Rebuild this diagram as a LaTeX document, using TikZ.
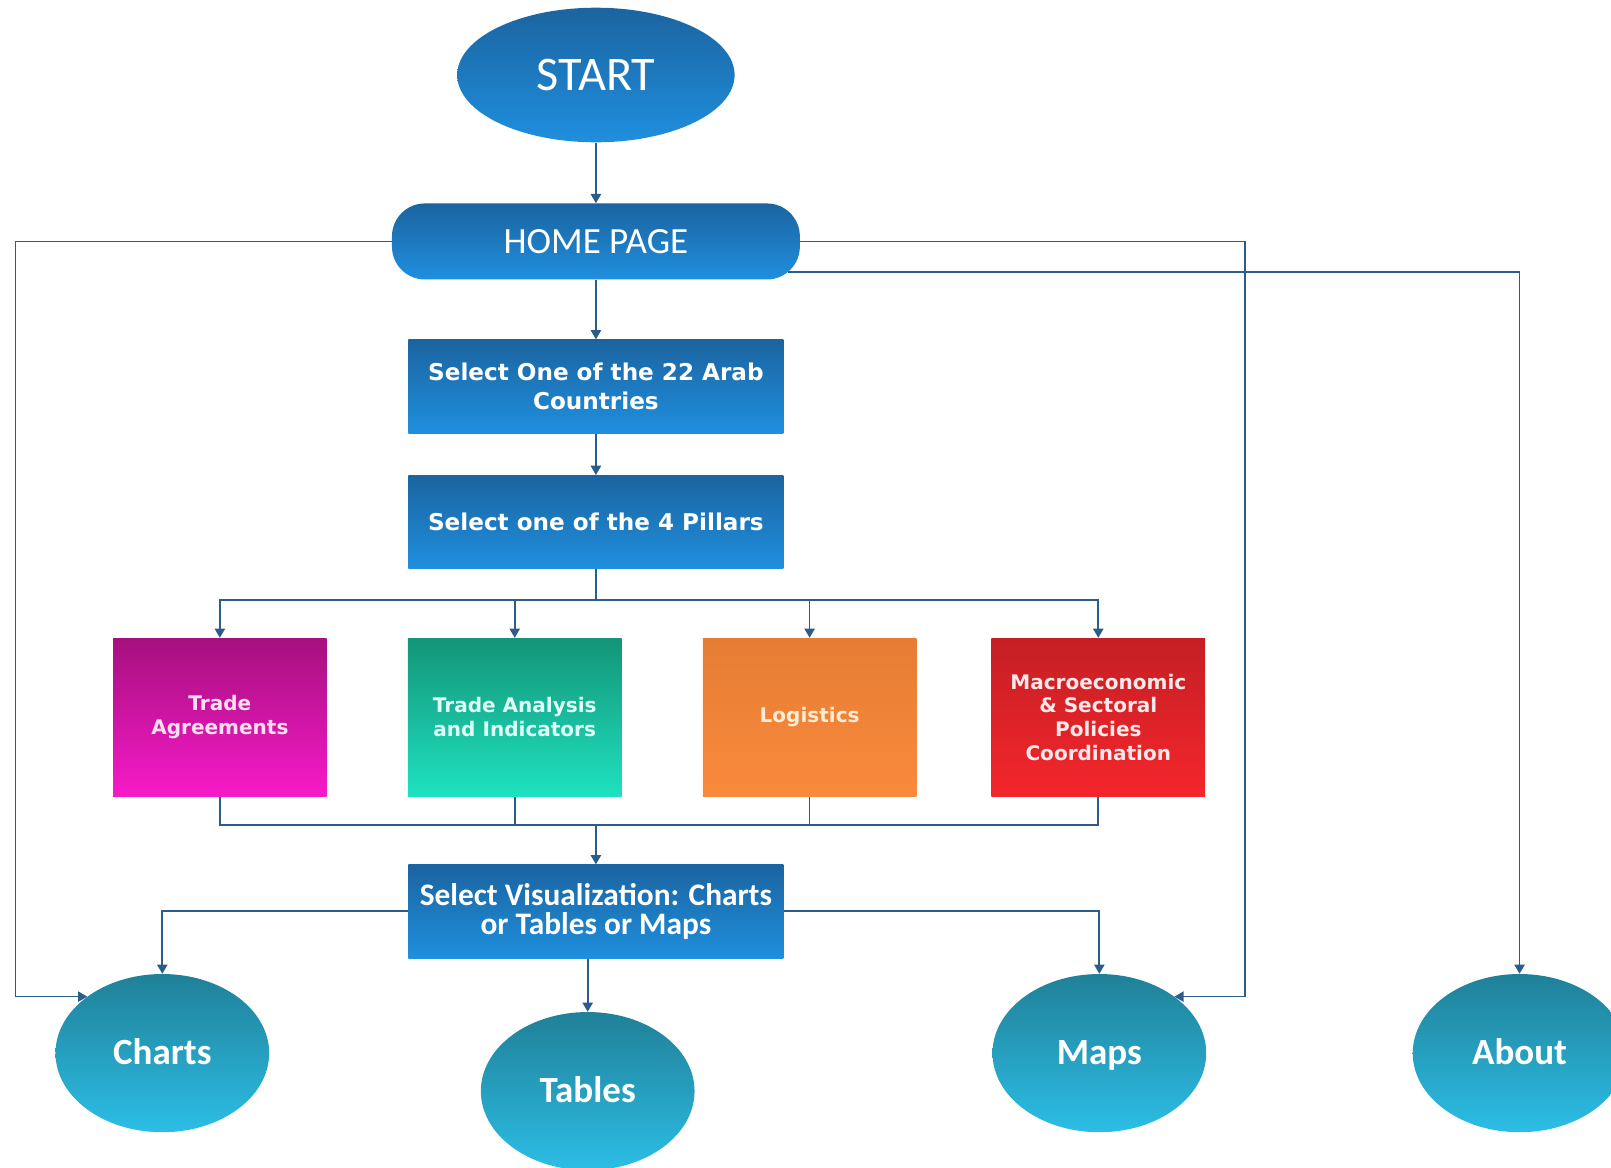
\documentclass[tikz,border=0pt]{standalone}
\usepackage{fontspec}
\setmainfont{Carlito}
\newfontfamily\boxfont{DejaVu Sans}
\usetikzlibrary{arrows.meta,shapes.geometric,backgrounds}
\definecolor{lineblue}{RGB}{44,92,138}
\definecolor{blueTop}{RGB}{27,100,160}
\definecolor{blueBot}{RGB}{31,143,222}
\definecolor{taTop}{RGB}{166,16,126}
\definecolor{taBot}{RGB}{246,26,201}
\definecolor{taiTop}{RGB}{20,148,120}
\definecolor{taiBot}{RGB}{30,226,192}
\definecolor{lgTop}{RGB}{229,125,52}
\definecolor{lgBot}{RGB}{250,138,60}
\definecolor{mcTop}{RGB}{196,31,36}
\definecolor{mcBot}{RGB}{244,38,44}
\definecolor{tealTop}{RGB}{32,128,152}
\definecolor{tealBot}{RGB}{44,190,230}
\begin{document}
\begin{tikzpicture}[x=1pt,y=-1pt,
  conn/.style={draw=lineblue,line width=1.7pt},
  arr/.style={conn,-{Triangle[width=10pt,length=9pt]}},
  bluegrad/.style={top color=blueTop,bottom color=blueBot,draw=none,text=white},
  startshape/.style={bluegrad,ellipse,minimum width=270pt,minimum height=131pt,inner sep=0pt,font=\fontsize{47}{52}\selectfont},
  homeshape/.style={bluegrad,rectangle,rounded corners=32pt,minimum width=397pt,minimum height=74pt,inner sep=0pt,font=\fontsize{36}{40}\selectfont},
  selbox/.style={bluegrad,rectangle,minimum width=365pt,minimum height=91pt,inner sep=0pt,align=center,font=\boxfont\bfseries\fontsize{22.5}{28}\selectfont},
  pillar/.style={rectangle,draw=none,minimum width=208pt,minimum height=154pt,inner sep=0pt,align=center,font=\boxfont\bfseries\fontsize{19.5}{23}\selectfont},
  endcirc/.style={ellipse,draw=none,minimum width=208pt,minimum height=154pt,inner sep=0pt,top color=tealTop,bottom color=tealBot,text=white,text height=23pt,text depth=0pt,font=\bfseries\fontsize{36}{40}\selectfont}
]
\useasboundingbox (0,0) rectangle (1568,1136);

\node[startshape] (start) at (580,73) {START};
\node[homeshape] (home) at (580,235) {HOME PAGE};
\node[selbox] (sel1) at (580,376) {Select One of the 22 Arab\\Countries};
\node[selbox] (sel2) at (580,508) {Select one of the 4 Pillars};
\node[pillar,top color=taTop,bottom color=taBot,text={rgb,255:red,255;green,222;blue,242}] (ta) at (214,698) {Trade\\Agreements};
\node[pillar,top color=taiTop,bottom color=taiBot,text={rgb,255:red,222;green,255;blue,245}] (tai) at (501,698) {Trade Analysis\\and Indicators};
\node[pillar,top color=lgTop,bottom color=lgBot,text={rgb,255:red,255;green,236;blue,212}] (lg) at (788,698) {Logistics};
\node[pillar,top color=mcTop,bottom color=mcBot,text={rgb,255:red,255;green,232;blue,232}] (mc) at (1069,698) {Macroeconomic\\\&~Sectoral\\Policies\\Coordination};
\node[selbox,font=\bfseries\fontsize{30.5}{28}\selectfont] (vis) at (580,887) {Select Visualization: Charts\\or Tables or Maps};
\node[endcirc] (charts) at (158,1025) {Charts};
\node[endcirc] (tables) at (572,1062) {Tables};
\node[endcirc] (maps) at (1070,1025) {Maps};
\node[endcirc] (about) at (1479,1025) {About};

\coordinate (busA) at (580,584);
\coordinate (busB) at (580,803);
\coordinate (L) at (15,970);
\coordinate (R) at (1212,970);

\begin{pgfonlayer}{background}
\draw[arr] (start) -- (home);
\draw[arr] (home) -- (sel1);
\draw[arr] (sel1) -- (sel2);
\draw[conn] (sel2) -- (busA);
\draw[arr] (busA) -| (ta);
\draw[arr] (busA) -| (tai);
\draw[arr] (busA) -| (lg);
\draw[arr] (busA) -| (mc);
\draw[conn] (ta) |- (busB);
\draw[conn] (tai) |- (busB);
\draw[conn] (lg) |- (busB);
\draw[conn] (mc) |- (busB);
\draw[arr] (busB) -- (vis);
\draw[arr] (vis) -| (charts);
\draw[arr] (vis) -| (maps);
\draw[arr] (vis.south -| tables) -- (tables);
\draw[arr] (home) -| (L) -- (L -| charts.143);
\draw[arr] (home) -| (R) -- (R -| maps.37);
\draw[arr] ([yshift=-30pt,xshift=-12pt]home.east) -| (about);
\end{pgfonlayer}
\end{tikzpicture}
\end{document}
